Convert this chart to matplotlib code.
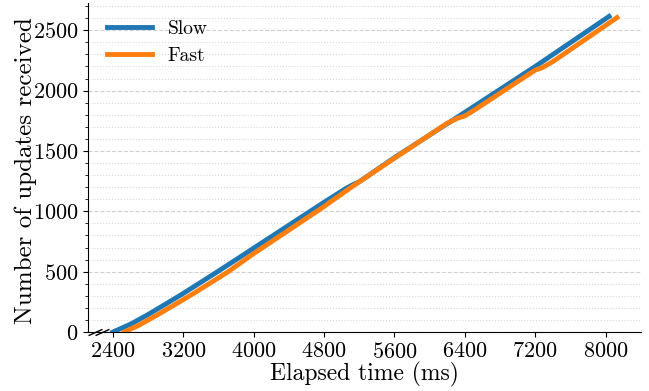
#!/usr/bin/env python3
"""updates_received.py"""

import matplotlib
matplotlib.use("Agg")
import matplotlib.pyplot as plt
from matplotlib.ticker import MultipleLocator

plt.rcParams["font.family"] = "serif"
plt.rcParams["font.serif"] = ["cmr10"]
plt.rcParams["mathtext.fontset"] = "cm"
plt.rcParams["axes.unicode_minus"] = False
plt.rcParams["axes.formatter.use_mathtext"] = True

# Slow run: elapsed time (ms) vs. updates received
slow_ms = [2400, 2600, 2800, 3000, 3200, 3600, 4000, 4800, 5050, 5120, 5200,
           5600, 6400, 7200, 8040]
slow_updates = [0, 65, 145, 232, 320, 505, 695, 1075, 1190, 1218, 1245,
                1445, 1820, 2200, 2615]

# Fast run
fast_ms = [2530, 2700, 2900, 3100, 3300, 3700, 4000, 4800, 5120, 5600, 6200,
           6320, 6400, 6500, 7200, 7280, 7400, 8130]
fast_updates = [0, 58, 140, 225, 312, 495, 650, 1040, 1205, 1440, 1730,
                1772, 1790, 1835, 2170, 2190, 2240, 2605]


def plot(ax: plt.Axes) -> None:
    """Draw both series with grid and broken-axis marks"""
    ax.plot(slow_ms, slow_updates, color="#1f77b4", lw=3.5, label="Slow")
    ax.plot(fast_ms, fast_updates, color="#ff7f0e", lw=3.5, label="Fast")

    ax.set_xlim(2116, 8403)
    ax.set_ylim(0, 2725)
    ax.xaxis.set_major_locator(MultipleLocator(800))
    ax.yaxis.set_major_locator(MultipleLocator(500))
    ax.yaxis.set_minor_locator(MultipleLocator(100))

    ax.grid(axis="y", which="major", ls="--", color="#d0d0d0", lw=0.8)
    ax.grid(axis="y", which="minor", ls=":", color="#d8d8d8", lw=0.8)
    ax.set_axisbelow(True)

    ax.spines["top"].set_visible(False)
    ax.spines["right"].set_visible(False)
    ax.tick_params(labelsize=16)

    ax.set_xlabel("Elapsed time (ms)", fontsize=17, labelpad=0)
    ax.set_ylabel("Number of updates received", fontsize=18)
    ax.yaxis.set_label_coords(-0.093, 0.49)

    # axis break marks
    ax.plot([2196, 2275], [0, 0], ls="none", color="k", ms=10, mew=1,
            marker=[(-1, -0.45), (1, 0.45)], clip_on=False)

    ax.legend(loc="upper left", frameon=False, fontsize=14,
              handlelength=2.3, bbox_to_anchor=(0.01, 0.99),
              borderaxespad=0.3, labelspacing=0.45)


def main() -> None:
    fig = plt.figure(figsize=(6.49, 3.91), dpi=100)
    ax = fig.add_axes([0.1356, 0.1509, 0.8521, 0.8411])
    plot(ax)
    fig.savefig("out.png", dpi=100)


if __name__ == "__main__":
    main()
